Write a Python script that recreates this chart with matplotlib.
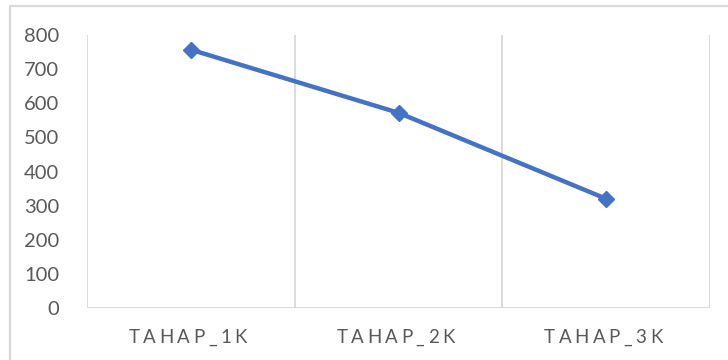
import matplotlib
matplotlib.use("Agg")
import matplotlib.pyplot as plt
from matplotlib.patches import Rectangle

categories = ["TAHAP_1K", "TAHAP_2K", "TAHAP_3K"]
values = [757, 572, 320]
y_ticks = [0, 100, 200, 300, 400, 500, 600, 700, 800]

W, H = 728, 360
TEXT_C = "#595959"
GRID_C = "#D9D9D9"
fig = plt.figure(figsize=(W / 100, H / 100), dpi=100)

# outer chart border (top and left edges visible)
fig.patches.append(Rectangle((10 / W, -0.2), 1.2, 1.2 - 6 / H,
                             transform=fig.transFigure, fill=False,
                             edgecolor=GRID_C, linewidth=1.6))

ax = fig.add_axes([87 / W, (H - 308) / H, (710 - 87) / W, (308 - 35) / H])
x = list(range(len(categories)))
ax.plot(x, values, color="#4472C4", linewidth=3.2, marker="D",
        markersize=8.5, markerfacecolor="#4472C4", markeredgecolor="#4472C4",
        zorder=3, solid_capstyle="round")

ax.set_xlim(-0.5, len(categories) - 0.5)
ax.set_ylim(0, 800)
ax.set_yticks(y_ticks)
ax.set_xticks(x)
ax.set_xticklabels([])

for b in [i - 0.5 for i in range(len(categories) + 1)]:
    ax.axvline(b, color=GRID_C, linewidth=1.3, zorder=1)
ax.axhline(0, color=GRID_C, linewidth=1.3, zorder=1)
for s in ax.spines.values():
    s.set_visible(False)

ax.tick_params(axis="both", length=0, colors=TEXT_C)
for lab in ax.get_yticklabels():
    lab.set_fontfamily("Lato")
    lab.set_fontsize(14.5)
ax.tick_params(axis="y", pad=20)

# category labels with wide letter spacing
renderer = fig.canvas.get_renderer()
label_font = dict(family="Lato", size=13.5, color=TEXT_C)
target_width = 118.0
baseline_px = H - 343
for xi, name in zip(x, categories):
    widths = []
    for ch in name:
        t = fig.text(0, 0, ch, **label_font)
        widths.append(t.get_window_extent(renderer).width)
        t.remove()
    gap = (target_width - sum(widths)) / (len(name) - 1)
    cx = ax.transData.transform((xi, 0))[0] - 3
    px = cx - target_width / 2
    for ch, w in zip(name, widths):
        fig.text(px / W, baseline_px / H, ch, ha="left", va="baseline",
                 **label_font)
        px += w + gap

fig.savefig("out.png", dpi=100)
